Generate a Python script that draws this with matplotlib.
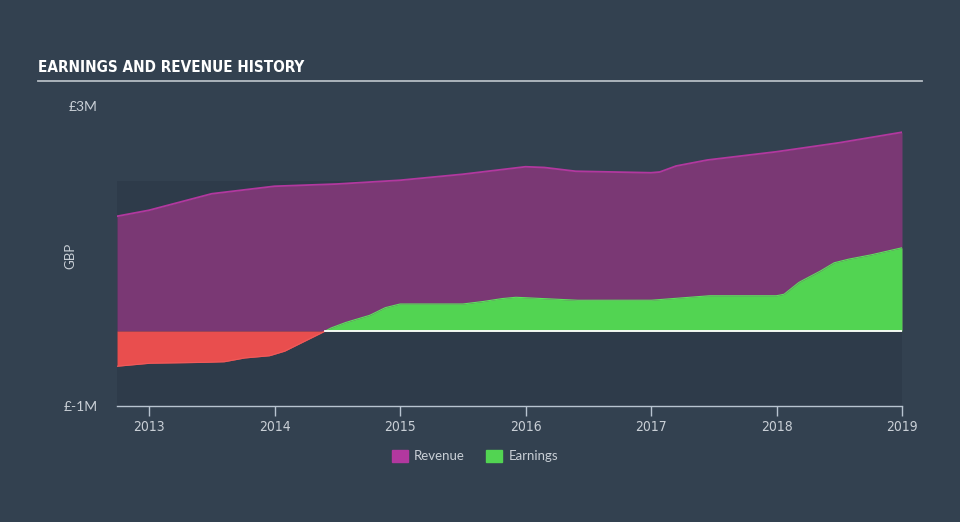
import numpy as np
import matplotlib
matplotlib.use("Agg")
import matplotlib.pyplot as plt
from matplotlib.patches import Patch

# values (GBP millions, time in fractional years)
rev_t = [2012.745, 2013.0, 2013.25, 2013.5, 2013.75, 2014.0, 2014.5, 2015.0,
         2015.5, 2015.8, 2016.0, 2016.15, 2016.4, 2017.0, 2017.07, 2017.2,
         2017.45, 2018.0, 2018.5, 2019.0]
rev_m = [1.53, 1.61, 1.72, 1.83, 1.88, 1.93, 1.96, 2.01,
         2.09, 2.15, 2.19, 2.18, 2.13, 2.11, 2.12, 2.20,
         2.28, 2.39, 2.51, 2.65]

earn_t = [2012.745, 2013.0, 2013.4, 2013.6, 2013.76, 2013.96, 2014.08, 2014.2,
          2014.37, 2014.45, 2014.56, 2014.76, 2014.88, 2015.0, 2015.5, 2015.65,
          2015.8, 2015.92, 2016.4, 2017.0, 2017.38, 2017.45, 2018.0, 2018.06,
          2018.18, 2018.34, 2018.46, 2018.58, 2018.74, 2019.0]
earn_m = [-0.47, -0.43, -0.42, -0.41, -0.36, -0.33, -0.27, -0.17,
          -0.03, 0.04, 0.11, 0.21, 0.31, 0.36, 0.36, 0.39,
          0.43, 0.45, 0.41, 0.41, 0.46, 0.47, 0.47, 0.49,
          0.65, 0.79, 0.91, 0.96, 1.01, 1.11]

years = [2013, 2014, 2015, 2016, 2017, 2018, 2019]
ytick_vals = [-1e6, 3e6]
ytick_labels = ["£-1M", "£3M"]

BG = "#334150"
PANEL = "#2e3b4a"
REV_FILL = "#7a3874"
REV_LINE = "#b2389f"
EARN_POS = "#52d452"
EARN_NEG = "#e94e4e"
TXT = "#c9cfd6"
NARROW = ["Liberation Sans Narrow", "DejaVu Sans"]

fig = plt.figure(figsize=(9.6, 5.22), dpi=100, facecolor=BG)
ax = fig.add_axes([117 / 960, 1 - 406 / 522, (902 - 117) / 960, 300 / 522])
ax.set_facecolor("none")

rt = np.array(rev_t)
rv = np.array(rev_m) * 1e6
et = np.array(earn_t)
ev = np.array(earn_m) * 1e6

x0, x1 = rt[0], rt[-1]
ax.fill_between([x0, x1], -1e6, 2e6, color=PANEL, lw=0, zorder=0)

ax.fill_between(rt, 0, rv, color=REV_FILL, lw=0, zorder=1)
ax.plot(rt, rv, color=REV_LINE, lw=1.3, zorder=2)

# fine grid so the positive / negative split is clean at the crossing
tt = np.linspace(x0, x1, 800)
ee = np.interp(tt, et, ev)
ax.fill_between(tt, 0, ee, where=ee >= 0, color=EARN_POS, lw=0,
                interpolate=True, zorder=3)
ax.fill_between(tt, 0, ee, where=ee <= 0, color=EARN_NEG, lw=0,
                interpolate=True, zorder=3)
ax.plot(tt[ee >= 0], ee[ee >= 0], color="#5ee05e", lw=0.8, zorder=4)
ax.plot(tt[ee <= 0], ee[ee <= 0], color="#f05a5a", lw=0.8, zorder=4)

cross = np.interp(0, ev, et)
ax.plot([cross, x1], [0, 0], color="white", lw=1.3, zorder=5)

ax.set_xlim(x0, x1)
ax.set_ylim(-1e6, 3e6)
for s in ["top", "right", "left"]:
    ax.spines[s].set_visible(False)
ax.spines["bottom"].set_color("#b8c4d0")
ax.spines["bottom"].set_linewidth(1.0)

ax.set_xticks(years)
ax.set_xticklabels([str(y) for y in years], family=NARROW, fontstretch="condensed",
                   fontsize=10, color=TXT)
ax.tick_params(axis="x", length=7, width=1, color="#b8c4d0", pad=3)
ax.set_yticks(ytick_vals)
ax.set_yticklabels(ytick_labels, fontsize=10, color=TXT, family=["Lato", "DejaVu Sans"])
ax.tick_params(axis="y", length=0, pad=14)
ax.set_ylabel("GBP", color=TXT, fontsize=9.5, family=["Lato", "DejaVu Sans"])
ax.yaxis.set_label_coords(-0.052, 0.5)

fig.text(38 / 960, 1 - 68 / 522, "EARNINGS AND REVENUE HISTORY", color="white",
         fontsize=11, fontweight="bold", fontstretch="condensed", va="center", ha="left",
         family=NARROW)
fig.add_artist(plt.Line2D([38 / 960, 922 / 960], [1 - 81 / 522] * 2,
                          color="#b5bcc4", lw=1.3, transform=fig.transFigure))

handles = [Patch(color=REV_LINE, label="Revenue"), Patch(color=EARN_POS, label="Earnings")]
leg = fig.legend(handles=handles, loc="center", bbox_to_anchor=(475 / 960, 1 - 456 / 522),
                 ncol=2, frameon=False, handlelength=1.2, handleheight=1.0,
                 columnspacing=1.6, handletextpad=0.5,
                 prop={"family": ["Lato", "DejaVu Sans"], "size": 9.5})
for t in leg.get_texts():
    t.set_color(TXT)

fig.savefig("out.png", dpi=100, facecolor=BG)
